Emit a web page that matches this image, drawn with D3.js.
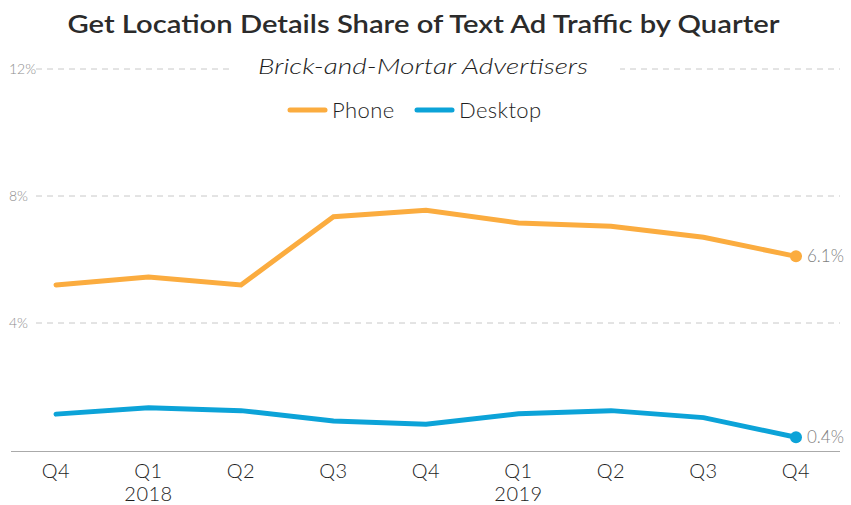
<!DOCTYPE html>
<html>
<head>
<meta charset="utf-8">
<script src="https://cdn.jsdelivr.net/npm/d3@7"></script>
<style>
  html, body { margin: 0; padding: 0; background: #fff; }
  svg { display: block; font-family: Lato, "Open Sans", sans-serif; }
</style>
</head>
<body>
<svg id="chart" width="851" height="505"></svg>
<script>
// Quarter labels along the x axis (year shown under the first quarter of each year)
const quarters = ["Q4", "Q1", "Q2", "Q3", "Q4", "Q1", "Q2", "Q3", "Q4"];
const years    = ["", "2018", "", "", "", "2019", "", "", ""];

// Share of text ad traffic (%) by device
const phone   = [5.2, 5.45, 5.2, 7.35, 7.55, 7.15, 7.05, 6.7, 6.1];
const desktop = [1.13, 1.33, 1.24, 0.91, 0.81, 1.14, 1.24, 1.02, 0.4];

const yTicks = [4, 8, 12];

const series = [
  { name: "Phone",   values: phone,   color: "#FBAC3F" },
  { name: "Desktop", values: desktop, color: "#0CA3D8" }
];

const svg = d3.select("#chart");
const W = 851;

const x = d3.scalePoint().domain(d3.range(quarters.length)).range([56, 796]);
const y = d3.scaleLinear().domain([0, 12]).range([450, 69]);

// Horizontal dashed gridlines
svg.append("g").selectAll("line").data(yTicks).join("line")
  .attr("x1", 36).attr("x2", 840)
  .attr("y1", d => y(d)).attr("y2", d => y(d))
  .attr("stroke", "#c8c8c8").attr("stroke-width", 1)
  .attr("stroke-dasharray", "6,5");

// Y tick labels
svg.append("g").selectAll("text").data(yTicks).join("text")
  .attr("x", 9).attr("y", d => y(d)).attr("dy", "0.35em")
  .attr("fill", "#8e8e8e").attr("font-size", 14).attr("font-weight", 300)
  .text(d => d + "%");

// Baseline
svg.append("line")
  .attr("x1", 11).attr("x2", 840).attr("y1", 451.5).attr("y2", 451.5)
  .attr("stroke", "#aaaaaa").attr("stroke-width", 1);

// X axis labels
const xAxis = svg.append("g")
  .attr("fill", "#1e1e1e").attr("font-size", 20).attr("font-weight", 300)
  .attr("letter-spacing", 0.5).attr("text-anchor", "middle");
xAxis.selectAll("text.q").data(quarters).join("text")
  .attr("class", "q")
  .attr("x", (d, i) => x(i)).attr("y", 478)
  .text(d => d);
xAxis.selectAll("text.yr").data(years).join("text")
  .attr("class", "yr")
  .attr("x", (d, i) => x(i)).attr("y", 501)
  .text(d => d);

// Lines
const line = d3.line().x((d, i) => x(i)).y(d => y(d));
svg.append("g").selectAll("path").data(series).join("path")
  .attr("d", s => line(s.values))
  .attr("fill", "none").attr("stroke", s => s.color)
  .attr("stroke-width", 5).attr("stroke-linecap", "round").attr("stroke-linejoin", "miter");

// End dots and value labels
const last = quarters.length - 1;
const ends = svg.append("g");
ends.selectAll("circle").data(series).join("circle")
  .attr("cx", x(last)).attr("cy", s => y(s.values[last]))
  .attr("r", 6).attr("fill", s => s.color);
ends.selectAll("text").data(series).join("text")
  .attr("x", x(last) + 11).attr("y", s => y(s.values[last])).attr("dy", "0.36em")
  .attr("fill", "#7f7f7f").attr("font-size", 17).attr("font-weight", 300)
  .text(s => d3.format(".1f")(s.values[last]) + "%");

// Title
svg.append("text")
  .attr("x", W / 2 - 2).attr("y", 33)
  .attr("text-anchor", "middle").attr("fill", "#2b2b2b")
  .attr("font-size", 24).attr("font-weight", 600)
  .attr("textLength", 712).attr("lengthAdjust", "spacingAndGlyphs")
  .text("Get Location Details Share of Text Ad Traffic by Quarter");

// Subtitle on a white band that interrupts the top gridline
svg.append("rect")
  .attr("x", 229).attr("y", 52).attr("width", 391).attr("height", 28)
  .attr("fill", "#fff");
svg.append("text")
  .attr("x", 423).attr("y", 74)
  .attr("text-anchor", "middle").attr("fill", "#1e1e1e")
  .attr("font-size", 21).attr("font-style", "italic").attr("font-weight", 300)
  .attr("textLength", 330).attr("lengthAdjust", "spacingAndGlyphs")
  .text("Brick-and-Mortar Advertisers");

// Legend
const legend = svg.append("g");
const legendPos = [{ sx: 290, tx: 332 }, { sx: 417, tx: 459 }];
series.forEach((s, i) => {
  legend.append("line")
    .attr("x1", legendPos[i].sx).attr("x2", legendPos[i].sx + 35)
    .attr("y1", 110).attr("y2", 110)
    .attr("stroke", s.color).attr("stroke-width", 5).attr("stroke-linecap", "round");
  legend.append("text")
    .attr("x", legendPos[i].tx).attr("y", 110).attr("dy", "0.35em")
    .attr("fill", "#1e1e1e").attr("font-size", 22).attr("font-weight", 300)
    .attr("letter-spacing", 0.4)
    .text(s.name);
});
</script>
</body>
</html>
